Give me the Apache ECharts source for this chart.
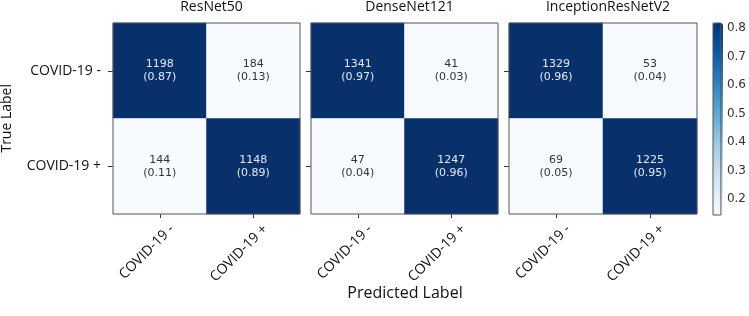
<!DOCTYPE html>
<html>
<head>
<meta charset="utf-8">
<script src="https://cdn.jsdelivr.net/npm/echarts@6/dist/echarts.min.js"></script>
<style>
  html, body { margin: 0; padding: 0; background: #fff; }
  #chart { width: 749px; height: 316px; }
</style>
</head>
<body>
<div id="chart"></div>
<script>
// confusion matrices, rows = true label, cols = predicted label
var models = ['ResNet50', 'DenseNet121', 'InceptionResNetV2'];
var classes = ['COVID-19 -', 'COVID-19 +'];
var resnetCounts = [[1198, 184], [144, 1148]];
var resnetRatios = [[0.87, 0.13], [0.11, 0.89]];
var densenetCounts = [[1341, 41], [47, 1247]];
var densenetRatios = [[0.97, 0.03], [0.04, 0.96]];
var inceptionCounts = [[1329, 53], [69, 1225]];
var inceptionRatios = [[0.96, 0.04], [0.05, 0.95]];
var colorbarTicks = [0.2, 0.3, 0.4, 0.5, 0.6, 0.7, 0.8];
var colorbarMin = 0.144, colorbarMax = 0.818;

var allCounts = [resnetCounts, densenetCounts, inceptionCounts];
var allRatios = [resnetRatios, densenetRatios, inceptionRatios];

var blues = ['#f7fbff', '#deebf7', '#c6dbef', '#9ecae1', '#6baed6', '#4292c6', '#2171b5', '#08519c', '#08306b'];
var labelFont = 'Open Sans';
var numFont = 'DejaVu Sans';

var panels = [
  { left: 113, width: 187 },
  { left: 311, width: 187 },
  { left: 509, width: 188 }
];

var chart = echarts.init(document.getElementById('chart'));

var grids = [], xAxes = [], yAxes = [], series = [], titles = [];
panels.forEach(function (p, i) {
  grids.push({
    left: p.left, top: 23, width: p.width, height: 191,
    show: true, z: 5, backgroundColor: 'transparent',
    borderColor: '#555', borderWidth: 1
  });
  xAxes.push({
    type: 'category', gridIndex: i, data: classes, position: 'bottom',
    axisLine: { show: false },
    axisTick: { show: true, alignWithLabel: true, length: 4, lineStyle: { color: '#333' } },
    axisLabel: {
      rotate: 45, margin: 25, fontSize: 14, color: '#111', fontFamily: labelFont,
      padding: [0, -17, 0, 0]
    },
    splitLine: { show: false }
  });
  yAxes.push({
    type: 'category', gridIndex: i, data: classes, inverse: true,
    axisLine: { show: false },
    axisTick: { show: true, alignWithLabel: true, length: 5, lineStyle: { color: '#333' } },
    axisLabel: { show: i === 0, margin: 12, fontSize: 14, color: '#111', fontFamily: labelFont },
    splitLine: { show: false }
  });
  var data = [];
  for (var r = 0; r < 2; r++) {
    for (var c = 0; c < 2; c++) {
      var v = allRatios[i][r][c];
      data.push({
        value: [c, r, v, allCounts[i][r][c]],
        label: { color: v > 0.5 ? '#e3e9f2' : '#333' }
      });
    }
  }
  series.push({
    type: 'heatmap', xAxisIndex: i, yAxisIndex: i, data: data,
    label: {
      show: true, fontSize: 11, fontFamily: numFont, lineHeight: 13,
      formatter: function (prm) {
        return prm.value[3] + '\n(' + prm.value[2].toFixed(2) + ')';
      }
    },
    emphasis: { disabled: true }
  });
  titles.push({
    text: models[i], left: p.left + p.width / 2, top: -5, textAlign: 'center',
    textStyle: { fontSize: 14, fontWeight: 'normal', color: '#111', fontFamily: labelFont }
  });
});

// colorbar axis
grids.push({ left: 713, top: 23, width: 10, height: 192, show: true, z: 5, backgroundColor: 'transparent', borderColor: '#555', borderWidth: 1 });
xAxes.push({ type: 'value', gridIndex: 3, show: false });
yAxes.push({
  type: 'value', gridIndex: 3, position: 'right', min: colorbarMin, max: colorbarMax,
  axisLine: { show: false },
  splitLine: { show: false },
  axisTick: { show: true, length: 4, customValues: colorbarTicks, lineStyle: { color: '#333' } },
  axisLabel: { margin: 6, fontSize: 12, color: '#333', fontFamily: numFont, customValues: colorbarTicks }
});

titles.push({
  text: 'Predicted Label', left: 400, top: 280, textAlign: 'center',
  textStyle: { fontSize: 16, fontWeight: 'normal', color: '#111', fontFamily: labelFont }
});

var option = {
  backgroundColor: '#fff',
  animation: false,
  title: titles,
  grid: grids,
  xAxis: xAxes,
  yAxis: yAxes,
  visualMap: {
    type: 'continuous', min: colorbarMin, max: colorbarMax, dimension: 2,
    seriesIndex: [0, 1, 2], calculable: false, text: null, showLabel: false,
    orient: 'vertical', left: 713, top: 23, itemWidth: 10, itemHeight: 192,
    padding: 0, inRange: { color: blues }
  },
  graphic: [{
    type: 'text', left: 0, top: 84, rotation: Math.PI / 2,
    style: { text: 'True Label', fontSize: 14, fontFamily: labelFont, fill: '#111' }
  }],
  series: series
};
chart.setOption(option);
</script>
</body>
</html>
